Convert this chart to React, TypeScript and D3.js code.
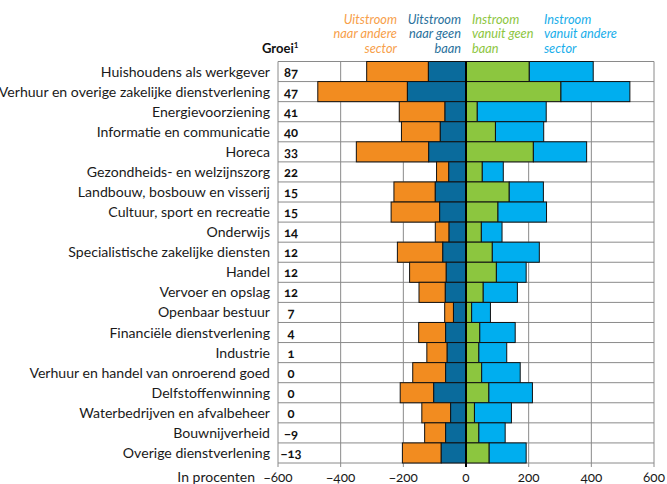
import React from "react";
import * as d3 from "d3";

const sectors = [
  "Huishoudens als werkgever",
  "Verhuur en overige zakelijke dienstverlening",
  "Energievoorziening",
  "Informatie en communicatie",
  "Horeca",
  "Gezondheids- en welzijnszorg",
  "Landbouw, bosbouw en visserij",
  "Cultuur, sport en recreatie",
  "Onderwijs",
  "Specialistische zakelijke diensten",
  "Handel",
  "Vervoer en opslag",
  "Openbaar bestuur",
  "Financiële dienstverlening",
  "Industrie",
  "Verhuur en handel van onroerend goed",
  "Delfstoffenwinning",
  "Waterbedrijven en afvalbeheer",
  "Bouwnijverheid",
  "Overige dienstverlening",
];
const growth = ["87", "47", "41", "40", "33", "22", "15", "15", "14", "12", "12", "12", "7", "4", "1", "0", "0", "0", "−9", "−13"];
const uitAndereSector = [197, 286, 146, 124, 231, 39, 132, 155, 44, 145, 117, 84, 28, 86, 65, 105, 107, 92, 67, 124];
const uitGeenBaan = [120, 187, 67, 82, 119, 55, 98, 84, 54, 74, 63, 66, 40, 65, 60, 65, 103, 49, 65, 79];
const inGeenBaan = [202, 303, 36, 94, 215, 52, 138, 102, 49, 84, 97, 55, 18, 44, 41, 50, 73, 27, 41, 74];
const inAndereSector = [204, 220, 220, 154, 170, 67, 109, 155, 66, 150, 95, 109, 60, 113, 89, 123, 139, 118, 84, 118];
const xTicks = [-600, -400, -200, 0, 200, 400, 600];

const C_ORANGE = "#f28c20";
const C_DARK = "#0a6b9c";
const C_GREEN = "#8cc63f";
const C_LIGHT = "#00aeef";

const FONT = "Lato, 'Open Sans', sans-serif";

export default function App() {
  const W = 667, H = 484;
  const x = d3.scaleLinear().domain([-600, 600]).range([278, 654]);
  const y = d3.scaleBand<number>().domain(d3.range(sectors.length)).range([61.5, 463]).padding(0);
  const bw = y.bandwidth();

  return (
    <svg width={W} height={H} style={{ position: "absolute", left: 0, top: 0, fontFamily: FONT }}>
      <rect width={W} height={H} fill="#fff" />
      {/* legend */}
      <g fontStyle="italic" fontSize={12.8}>
        {[
          { lines: ["Uitstroom", "naar andere", "sector"], x: 397, anchor: "end", color: "#f7a04a" },
          { lines: ["Uitstroom", "naar geen", "baan"], x: 461, anchor: "end", color: "#2a719c" },
          { lines: ["Instroom", "vanuit geen", "baan"], x: 472, anchor: "start", color: "#8dc63f" },
          { lines: ["Instroom", "vanuit andere", "sector"], x: 544, anchor: "start", color: "#19aeea" },
        ].map((l, i) => (
          <g key={i}>
            {l.lines.map((s, j) => (
              <text key={j} x={l.x} y={24 + j * 14.4} textAnchor={l.anchor as any} fill={l.color}>{s}</text>
            ))}
          </g>
        ))}
      </g>
      <text x={262} y={52.5} fontWeight="bold" fontSize={13} fill="#111">
        Groei<tspan fontSize={8} dy={-5}>1</tspan>
      </text>

      {/* vertical grid */}
      {xTicks.map((t) => (
        <line key={t} x1={x(t)} x2={x(t)} y1={61.5} y2={467} stroke="#8a8a8a" strokeWidth={1} />
      ))}
      {/* horizontal grid */}
      {d3.range(sectors.length + 1).map((i) => (
        <line key={i} x1={278} x2={654} y1={61.5 + i * bw} y2={61.5 + i * bw} stroke="#8a8a8a" strokeWidth={1} />
      ))}

      {/* bars */}
      {sectors.map((s, i) => {
        const y0 = y(i)!;
        const segs = [
          { a: -(uitGeenBaan[i] + uitAndereSector[i]), b: -uitGeenBaan[i], c: C_ORANGE },
          { a: -uitGeenBaan[i], b: 0, c: C_DARK },
          { a: 0, b: inGeenBaan[i], c: C_GREEN },
          { a: inGeenBaan[i], b: inGeenBaan[i] + inAndereSector[i], c: C_LIGHT },
        ];
        return (
          <g key={s}>
            {segs.map((g, k) => (
              <rect key={k} x={x(g.a)} y={y0} width={x(g.b) - x(g.a)} height={bw} fill={g.c} stroke="#111" strokeWidth={1} />
            ))}
          </g>
        );
      })}
      <line x1={x(0)} x2={x(0)} y1={61.5} y2={467} stroke="#000" strokeWidth={2} />

      {/* labels */}
      {sectors.map((s, i) => (
        <text key={s} x={270} y={y(i)! + bw / 2 + 5} textAnchor="end" fontSize={14.1} fill="#1a1a1a">{s}</text>
      ))}
      {growth.map((g, i) => (
        <text key={i} x={291} y={y(i)! + bw / 2 + 5} textAnchor="middle" fontSize={13} fontWeight="bold" fill="#111" style={{ fontVariantNumeric: "oldstyle-nums" }}>{g}</text>
      ))}

      {/* axis */}
      {xTicks.map((t) => (
        <text key={t} x={x(t)} y={482} textAnchor="middle" fontSize={13.5} fill="#1a1a1a" style={{ fontVariantNumeric: "oldstyle-nums" }}>
          {t < 0 ? "−" + Math.abs(t) : String(t)}
        </text>
      ))}
      <text x={255} y={482} textAnchor="end" fontSize={14} fill="#1a1a1a">In procenten</text>
    </svg>
  );
}
